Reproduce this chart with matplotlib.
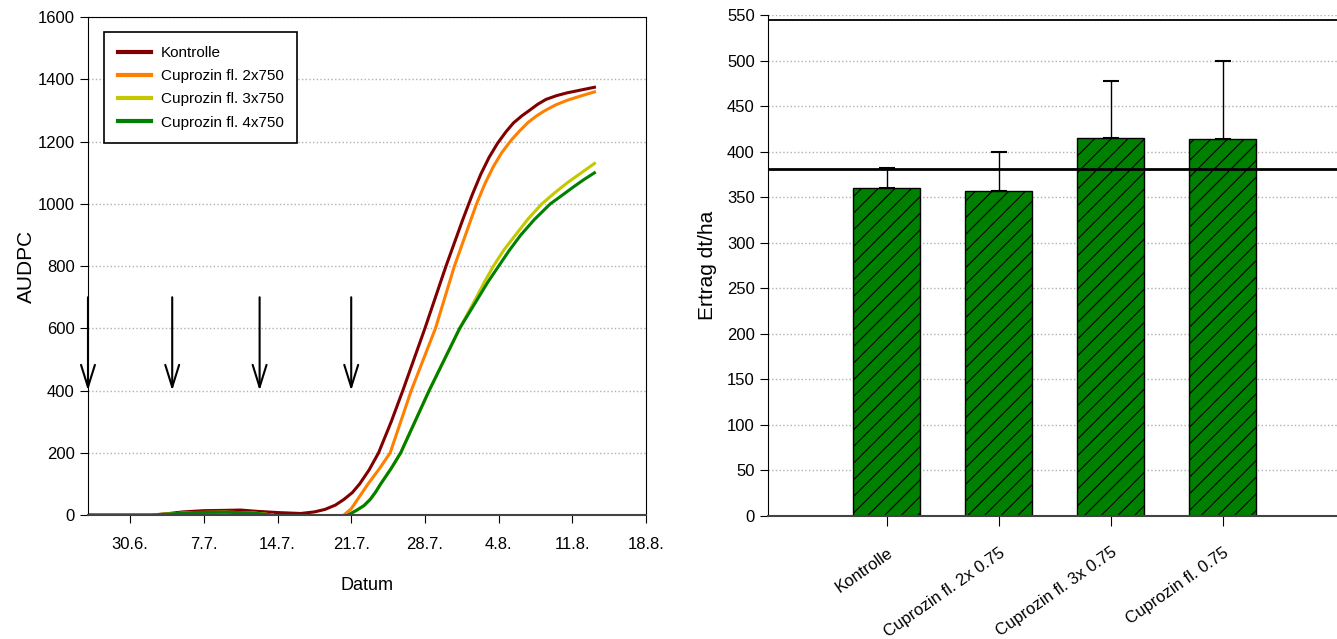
import numpy as np
import matplotlib
matplotlib.use("Agg")
from matplotlib import pyplot as plt

plt.rcParams['font.family'] = ['Liberation Sans', 'DejaVu Sans']
plt.rcParams['hatch.linewidth'] = 0.8

# --- left panel: AUDPC over time (days after 26.6.) ---
tick_days = [4, 11, 18, 25, 32, 39, 46, 53]
tick_labels = ['30.6.', '7.7.', '14.7.', '21.7.', '28.7.', '4.8.', '11.8.', '18.8.']

kontrolle_day = [0, 3, 6, 7.5, 9, 11, 13, 14.5, 16, 18, 20.2, 21.5, 22.5, 23.5, 24.3, 25.1, 25.8, 26.7,
                 27.6, 28.8, 29.9, 32, 34, 35.6, 36.5, 37.3, 38.1, 38.9, 39.7, 40.4, 41.2, 41.9,
                 42.7, 43.5, 44.5, 45.5, 46.8, 48.1]
kontrolle_val = [0, 0, 0, 4, 10, 14, 15, 16, 12, 8, 5, 10, 18, 32, 50, 72, 100, 145,
                 200, 300, 400, 600, 800, 950, 1030, 1095, 1150, 1195, 1232, 1260, 1283, 1300,
                 1320, 1336, 1348, 1357, 1366, 1375]

orange_day = [0, 6, 8, 10, 13, 15.5, 16.8, 17.5, np.nan, 24.3, 25.0, 25.6, 26.1, 26.6, 27.7, 28.7,
              30.7, 33.0, 34.8, 36.9, 37.7, 38.5, 39.3, 40.2, 41.0, 41.8, 42.6, 43.4, 44.4,
              45.5, 46.8, 48.1]
orange_val = [0, 0, 4, 8, 9, 7, 3, 0, np.nan, 0, 20, 50, 75, 100, 150, 200,
              400, 600, 800, 1000, 1065, 1120, 1165, 1205, 1235, 1262, 1283, 1300, 1318,
              1333, 1347, 1360]

yellow_day = [0, 6, 8, 10, 13, 15.5, 16.8, 17.5, np.nan, 24.7, 25.5, 26.2, 26.8, 27.3, 27.8, 28.8,
              29.7, 32.4, 35.3, 36.1, 36.9, 37.7, 38.5, 39.5, 40.6, 41.8, 43.1, 44.3, 45.6,
              46.9, 48.1]
yellow_val = [0, 0, 4, 8, 9, 7, 3, 0, np.nan, 0, 15, 30, 50, 73, 100, 150,
              200, 400, 600, 650, 700, 752, 800, 852, 900, 952, 1000, 1035, 1070,
              1101, 1130]

green_day = [0, 6, 8, 10, 13, 15.5, 16.8, 17.5, np.nan, 24.7, 25.5, 26.2, 26.8, 27.3, 27.8, 28.8,
             29.7, 32.4, 35.3, 36.2, 37.1, 38.0, 39.0, 40.0, 41.1, 42.4, 43.9, 45.0, 46.0,
             47.0, 48.1]
green_val = [0, 0, 4, 8, 9, 7, 3, 0, np.nan, 0, 15, 30, 50, 73, 100, 150,
             200, 400, 600, 650, 700, 750, 800, 850, 900, 950, 1000, 1027, 1052,
             1076, 1100]

spray_days = [0, 8, 16.3, 25]

# --- right panel: yield ---
categories = ['Kontrolle', 'Cuprozin fl. 2x 0.75', 'Cuprozin fl. 3x 0.75', 'Cuprozin fl. 0.75']
ertrag = [360, 357, 415, 414]
ertrag_err = [22, 42, 62, 86]
ref_lines = [381, 545]

fig = plt.figure(figsize=(13.37, 6.39), dpi=100)

ax = fig.add_axes([0.0658, 0.194, 0.4174, 0.779])
ax.plot(kontrolle_day, kontrolle_val, color='#800000', lw=2.2, label='Kontrolle')
ax.plot(orange_day, orange_val, color='#ff8000', lw=2.2, label='Cuprozin fl. 2x750')
ax.plot(yellow_day, yellow_val, color='#c4c800', lw=2.2, label='Cuprozin fl. 3x750')
ax.plot(green_day, green_val, color='#008000', lw=2.2, label='Cuprozin fl. 4x750')

for d in spray_days:
    ax.annotate('', xy=(d, 400), xytext=(d, 700), annotation_clip=False,
                arrowprops=dict(arrowstyle='->,head_length=1.6,head_width=0.5', lw=1.5,
                                color='black', shrinkA=0, shrinkB=0))

ax.set_xlim(0, 53)
ax.set_ylim(0, 1600)
ax.set_xticks(tick_days)
ax.set_xticklabels(tick_labels)
ax.set_yticks(range(0, 1601, 200))
ax.yaxis.grid(True, linestyle=':', color='#b0b0b0', lw=1)
ax.set_axisbelow(True)
ax.tick_params(labelsize=12, length=6, direction='out')
ax.tick_params(axis='x', pad=10)
ax.spines['bottom'].set_color('#444444')
ax.spines['bottom'].set_linewidth(1.5)
ax.set_xlabel('Datum', fontsize=13, labelpad=18)
ax.set_ylabel('AUDPC', fontsize=15, labelpad=1)
leg = ax.legend(loc='upper left', bbox_to_anchor=(0.015, 0.985), fontsize=11, fancybox=False,
                edgecolor='black', framealpha=1, handlelength=2.2, handletextpad=0.6,
                borderpad=0.9, labelspacing=0.6)
leg.get_frame().set_linewidth(1.2)
for h in leg.get_lines():
    h.set_linewidth(3)

ax2 = fig.add_axes([0.5744, 0.193, 0.4256, 0.7835])
x = np.arange(len(categories))
ax2.bar(x, ertrag, width=0.6, color='#008000', edgecolor='black', lw=1, hatch='//', zorder=2)
ax2.errorbar(x, ertrag, yerr=[np.zeros(len(ertrag)), ertrag_err], fmt='none', ecolor='black',
             elinewidth=1, capsize=6, capthick=1.5, zorder=3)
ax2.axhline(ref_lines[0], color='black', lw=2, zorder=4)
ax2.axhline(ref_lines[1], color='black', lw=1.3, zorder=4)
ax2.set_xlim(-1.06, 4.02)
ax2.set_ylim(0, 550)
ax2.set_yticks(range(0, 551, 50))
ax2.yaxis.grid(True, linestyle=':', color='#b0b0b0', lw=1)
ax2.set_axisbelow(True)
ax2.set_xticks(x)
ax2.set_xticklabels(categories, rotation=35, ha='right', va='top', rotation_mode='anchor')
ax2.tick_params(labelsize=12, length=6, direction='out')
ax2.tick_params(axis='x', pad=14, length=7)
ax2.spines['top'].set_visible(False)
ax2.spines['right'].set_visible(False)
ax2.spines['bottom'].set_color('#444444')
ax2.spines['bottom'].set_linewidth(1.5)
ax2.set_ylabel('Ertrag dt/ha', fontsize=15, labelpad=7)

fig.savefig('out.png', dpi=100)
